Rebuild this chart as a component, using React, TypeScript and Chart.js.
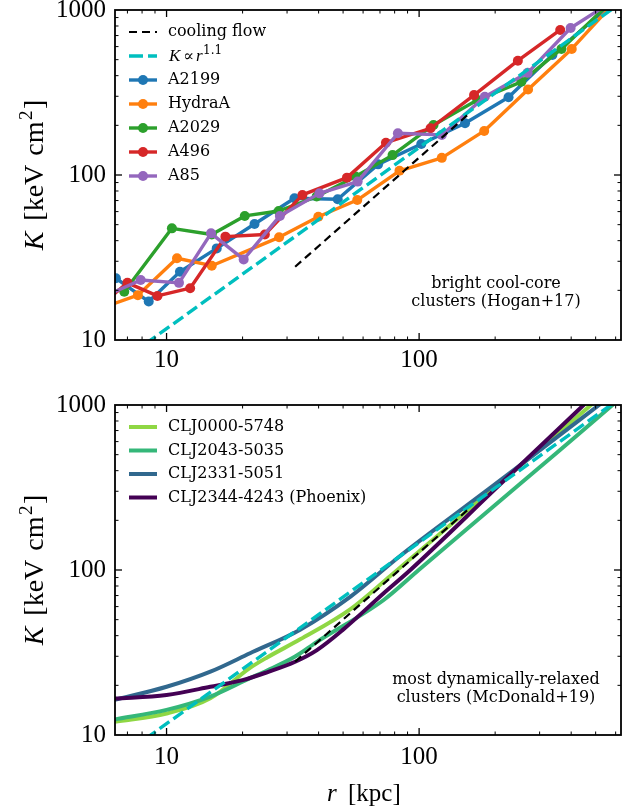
import React, { useEffect, useRef } from 'react';
import { Chart, registerables } from 'chart.js';

Chart.register(...registerables);

// ---------- axes ----------
const R_MIN = 6.25;
const R_MAX = 630;
const K_MIN = 10;
const K_MAX = 1000;
const R_TICKS = [10, 100];
const K_TICKS = [10, 100, 1000];
const DECADES = [1, 10, 100, 1000];
const MULTS = [1, 2, 3, 4, 5, 6, 7, 8, 9];

// ---------- reference lines ----------
const COOLING_R = [32.3, 160];
const COOLING_K = [27.8, 240];
const POWER_R = [5, 700];
const POWER_K = [5.47, 1244];

// ---------- Hogan+17 bright cool-core clusters ----------
const A2199_R = [6.3, 8.5, 11.3, 15.8, 22.3, 32.1, 47.6, 68.8, 102, 152, 226, 337, 624];
const A2199_K = [23.7, 17.1, 25.9, 35.9, 50.5, 72.3, 71.3, 116, 154, 206, 296, 534, 1200];
const HYDRAA_R = [5.5, 7.7, 11.0, 15.1, 27.9, 39.9, 56.9, 83.6, 123, 181, 270, 402, 622];
const HYDRAA_K = [15.6, 18.7, 31.3, 28.2, 41.9, 55.8, 70.5, 106, 127, 185, 330, 581, 1200];
const A2029_R = [6.8, 10.5, 15.1, 20.4, 27.8, 39.3, 56, 78.5, 114, 170, 254, 366, 603];
const A2029_K = [19.6, 47.5, 43.6, 56.5, 60.5, 74.0, 98, 132, 201, 285, 367, 581, 1200];
const A496_R = [5.5, 7.0, 9.2, 12.4, 17.1, 24.5, 34.5, 51.8, 73.9, 111, 165, 246, 362];
const A496_K = [16.3, 22.2, 18.5, 20.6, 42.3, 43.6, 75.7, 96.4, 157, 192, 305, 493, 757];
const A85_R = [5.5, 7.9, 11.2, 15.0, 20.2, 28.1, 40.3, 57.1, 82.4, 123, 182, 269, 398, 620];
const A85_K = [18.0, 23.1, 22.2, 44.3, 30.8, 56.5, 77.4, 91.2, 179, 175, 298, 416, 778, 1200];

// ---------- McDonald+19 most relaxed clusters ----------
const CLJ0000_R = [6.2, 10, 14.9, 21.4, 25, 33.8, 53.5, 76.9, 86.9, 150, 258, 479, 650];
const CLJ0000_K = [12.0, 13.5, 16.7, 25.5, 29.5, 38, 58, 92, 108, 219, 444, 1000, 1487];
const CLJ2043_R = [6.2, 10, 14.9, 21.4, 25, 32.3, 39.4, 72.4, 99.6, 200, 350, 583, 650];
const CLJ2043_K = [12.4, 14.2, 17.1, 22.1, 24.6, 29.9, 36.7, 65.8, 100, 248, 512, 1000, 1152];
const CLJ2331_R = [6.2, 10, 15, 21.4, 33.8, 53.5, 84.3, 150, 272, 516, 650];
const CLJ2331_K = [16.3, 19.6, 24.3, 31.3, 43.5, 69, 122, 238, 473, 1000, 1310];
const CLJ2344_R = [6.2, 10, 14.9, 20, 25, 32.3, 39.4, 50, 72.4, 92.3, 200, 272, 448, 650];
const CLJ2344_K = [16.6, 17.5, 19.6, 21.5, 24.0, 27.8, 32.7, 43.5, 72.3, 100, 309, 484, 1000, 1722];

const TOP_LABELS = ['A2199', 'HydraA', 'A2029', 'A496', 'A85'];
const TOP_COLORS = ['#1f77b4', '#ff7f0e', '#2ca02c', '#d62728', '#9467bd'];
const TOP_R = [A2199_R, HYDRAA_R, A2029_R, A496_R, A85_R];
const TOP_K = [A2199_K, HYDRAA_K, A2029_K, A496_K, A85_K];

const BOT_LABELS = ['CLJ0000-5748', 'CLJ2043-5035', 'CLJ2331-5051', 'CLJ2344-4243 (Phoenix)'];
const BOT_COLORS = ['#8fd744', '#35b779', '#31688e', '#440154'];
const BOT_R = [CLJ0000_R, CLJ2043_R, CLJ2331_R, CLJ2344_R];
const BOT_K = [CLJ0000_K, CLJ2043_K, CLJ2331_K, CLJ2344_K];

const CYAN = '#00bfbf';
const TICK_FONT = 'Liberation Serif';
const TEXT_FONT = 'DejaVu Serif';
const TOP_LW = 3.4;
const BOT_LW = 4;

function pts(r: number[], k: number[]) {
  return r.map((x, i) => ({ x, y: k[i] }));
}

type LegendItem = {
  label: string;
  color: string;
  width: number;
  dash?: number[];
  marker?: boolean;
  math?: boolean;
};

type DecorOpts = {
  legend: LegendItem[];
  legendY0: number;
  legendDy: number;
  note: string[];
  noteY: number[];
  xTitle: boolean;
};

function line(ctx: CanvasRenderingContext2D, x1: number, y1: number, x2: number, y2: number) {
  ctx.beginPath();
  ctx.moveTo(x1, y1);
  ctx.lineTo(x2, y2);
  ctx.stroke();
}

function decorPlugin(o: DecorOpts) {
  return {
    id: 'decor',
    afterDraw(chart: any) {
      const ctx: CanvasRenderingContext2D = chart.ctx;
      const a = chart.chartArea;
      const xs = chart.scales.x;
      const ys = chart.scales.y;
      ctx.save();
      ctx.strokeStyle = '#000';
      // inward ticks on all four sides
      for (const d of DECADES) {
        for (const m of MULTS) {
          const v = d * m;
          const major = m === 1;
          const len = major ? 7 : 3.5;
          ctx.lineWidth = major ? 1.3 : 1;
          if (v > xs.min && v < xs.max) {
            const px = xs.getPixelForValue(v);
            line(ctx, px, a.bottom, px, a.bottom - len);
            line(ctx, px, a.top, px, a.top + len);
          }
          if (v > ys.min && v < ys.max) {
            const py = ys.getPixelForValue(v);
            line(ctx, a.left, py, a.left + len, py);
            line(ctx, a.right, py, a.right - len, py);
          }
        }
      }
      ctx.lineWidth = 1.8;
      ctx.strokeRect(a.left, a.top, a.right - a.left, a.bottom - a.top);

      // legend
      const hx0 = a.left + 14;
      const hx1 = a.left + 42;
      const tx = a.left + 53;
      o.legend.forEach((it, i) => {
        const y = a.top + o.legendY0 + i * o.legendDy;
        ctx.strokeStyle = it.color;
        ctx.lineWidth = it.width;
        ctx.lineCap = 'butt';
        ctx.setLineDash(it.dash || []);
        line(ctx, hx0, y, hx1, y);
        ctx.setLineDash([]);
        if (it.marker) {
          ctx.fillStyle = it.color;
          ctx.beginPath();
          ctx.arc((hx0 + hx1) / 2, y, 5, 0, Math.PI * 2);
          ctx.fill();
        }
        ctx.fillStyle = '#000';
        if (it.math) {
          const b = y + 5;
          ctx.textBaseline = 'alphabetic';
          ctx.textAlign = 'left';
          ctx.font = `italic 17px ${TICK_FONT}`;
          ctx.fillText('K', tx + 1, b);
          ctx.font = `16px ${TEXT_FONT}`;
          ctx.fillText('\u221d', tx + 15, b);
          ctx.font = `italic 17px ${TICK_FONT}`;
          ctx.fillText('r', tx + 28, b);
          ctx.font = `12px ${TEXT_FONT}`;
          ctx.fillText('1.1', tx + 35, b - 7);
        } else {
          ctx.font = `16px ${TEXT_FONT}`;
          ctx.textBaseline = 'middle';
          ctx.textAlign = 'left';
          ctx.fillText(it.label, tx, y);
        }
      });

      // annotation
      ctx.fillStyle = '#000';
      ctx.font = `16px ${TEXT_FONT}`;
      ctx.textAlign = 'center';
      ctx.textBaseline = 'middle';
      o.note.forEach((t, i) => ctx.fillText(t, a.left + 381, a.top + o.noteY[i]));

      // y title: K [keV cm^2], rotated, laid out piece by piece
      const cy = (a.top + a.bottom) / 2;
      const mainF = `28px ${TICK_FONT}`;
      const italF = `italic 28px ${TICK_FONT}`;
      const supF = `19px ${TICK_FONT}`;
      const pieces = [
        { t: 'K', f: italF, gap: 0, dy: 0 },
        { t: '[keV', f: mainF, gap: 11, dy: 0 },
        { t: 'cm', f: mainF, gap: 9, dy: 0 },
        { t: '2', f: supF, gap: 1.5, dy: -11 },
        { t: ']', f: mainF, gap: 1.5, dy: 0 },
      ];
      let total = 0;
      const widths = pieces.map((p) => {
        ctx.font = p.f;
        const w = ctx.measureText(p.t).width;
        total += p.gap + w;
        return w;
      });
      ctx.save();
      ctx.translate(43, cy + total / 2);
      ctx.rotate(-Math.PI / 2);
      ctx.textAlign = 'left';
      ctx.textBaseline = 'alphabetic';
      let pos = 0;
      pieces.forEach((p, i) => {
        pos += p.gap;
        ctx.font = p.f;
        ctx.fillText(p.t, pos, p.dy);
        pos += widths[i];
      });
      ctx.restore();

      // x title: r [kpc]
      if (o.xTitle) {
        const cx = (a.left + a.right) / 2 - 4;
        const by = a.bottom + 66;
        ctx.textAlign = 'left';
        ctx.textBaseline = 'alphabetic';
        ctx.font = `italic 25px ${TICK_FONT}`;
        ctx.fillText('r', cx - 37, by);
        ctx.font = `25px ${TICK_FONT}`;
        ctx.fillText('[kpc]', cx - 16, by);
      }
      ctx.restore();
    },
  };
}

function makeChart(canvas: HTMLCanvasElement, datasets: any[], decor: DecorOpts, xPad: number, xHeight: number) {
  return new Chart(canvas as any, {
    type: 'line',
    data: { datasets },
    options: {
      responsive: false,
      animation: false,
      devicePixelRatio: 1,
      events: [],
      layout: { padding: { left: 0, right: 15, top: 10, bottom: 0 } },
      plugins: { legend: { display: false }, tooltip: { enabled: false } },
      elements: { line: { borderJoinStyle: 'round', borderCapStyle: 'butt', fill: false } },
      scales: {
        x: {
          type: 'logarithmic',
          min: R_MIN,
          max: R_MAX,
          grid: { display: false, drawTicks: false },
          border: { display: false },
          afterBuildTicks: (s: any) => {
            s.ticks = R_TICKS.map((v) => ({ value: v }));
          },
          afterFit: (s: any) => {
            s.height = xHeight;
            s.paddingLeft = 0;
            s.paddingRight = 0;
          },
          ticks: {
            autoSkip: false,
            maxRotation: 0,
            minRotation: 0,
            padding: xPad,
            color: '#000',
            font: { family: TICK_FONT, size: 25 },
            callback: (v: any) => String(v),
          },
        },
        y: {
          type: 'logarithmic',
          min: K_MIN,
          max: K_MAX,
          grid: { display: false, drawTicks: false },
          border: { display: false },
          afterBuildTicks: (s: any) => {
            s.ticks = K_TICKS.map((v) => ({ value: v }));
          },
          afterFit: (s: any) => {
            s.width = 115;
            s.paddingTop = 0;
            s.paddingBottom = 0;
          },
          ticks: {
            autoSkip: false,
            padding: 9,
            color: '#000',
            font: { family: TICK_FONT, size: 25 },
            callback: (v: any) => String(v),
          },
        },
      },
    } as any,
    plugins: [decorPlugin(decor)],
  });
}

function refLines() {
  return [
    {
      label: 'cooling flow',
      data: pts(COOLING_R, COOLING_K),
      borderColor: '#000',
      borderWidth: 2.2,
      borderDash: [8, 5],
      pointRadius: 0,
      order: 0,
    },
    {
      label: 'K \u221d r^1.1',
      data: pts(POWER_R, POWER_K),
      borderColor: CYAN,
      borderWidth: 3.4,
      borderDash: [12, 5],
      pointRadius: 0,
      order: 1,
    },
  ];
}

export default function App() {
  const topRef = useRef<HTMLCanvasElement>(null);
  const botRef = useRef<HTMLCanvasElement>(null);

  useEffect(() => {
    const topSets = [
      ...refLines(),
      ...TOP_LABELS.map((label, i) => ({
        label,
        data: pts(TOP_R[i], TOP_K[i]),
        borderColor: TOP_COLORS[i],
        backgroundColor: TOP_COLORS[i],
        pointBackgroundColor: TOP_COLORS[i],
        pointBorderWidth: 0,
        pointRadius: 5,
        borderWidth: TOP_LW,
        tension: 0,
        order: 10 - i,
      })),
    ];
    const botSets = [
      ...refLines(),
      ...BOT_LABELS.map((label, i) => ({
        label,
        data: pts(BOT_R[i], BOT_K[i]),
        borderColor: BOT_COLORS[i],
        borderWidth: BOT_LW,
        pointRadius: 0,
        cubicInterpolationMode: 'monotone',
        order: 10 - i,
      })),
    ];
    const topLegend: LegendItem[] = [
      { label: 'cooling flow', color: '#000', width: 2.2, dash: [8, 5] },
      { label: 'K \u221d r^1.1', color: CYAN, width: 3.4, dash: [14, 5], math: true },
      ...TOP_LABELS.map((label, i) => ({ label, color: TOP_COLORS[i], width: TOP_LW, marker: true })),
    ];
    const botLegend: LegendItem[] = BOT_LABELS.map((label, i) => ({ label, color: BOT_COLORS[i], width: BOT_LW }));

    const c1 = makeChart(
      topRef.current!,
      topSets,
      {
        legend: topLegend,
        legendY0: 22,
        legendDy: 24,
        note: ['bright cool-core', 'clusters (Hogan+17)'],
        noteY: [273.5, 291.5],
        xTitle: false,
      },
      5,
      55
    );
    const c2 = makeChart(
      botRef.current!,
      botSets,
      {
        legend: botLegend,
        legendY0: 22,
        legendDy: 23.5,
        note: ['most dynamically-relaxed', 'clusters (McDonald+19)'],
        noteY: [274.5, 292.5],
        xTitle: true,
      },
      7,
      77
    );
    return () => {
      c1.destroy();
      c2.destroy();
    };
  }, []);

  return (
    <div style={{ position: 'absolute', left: 0, top: 0, width: 636, height: 812, background: '#fff' }}>
      <canvas
        ref={topRef}
        width={636}
        height={395}
        style={{ position: 'absolute', left: 0, top: 0, width: 636, height: 395 }}
      />
      <canvas
        ref={botRef}
        width={636}
        height={417}
        style={{ position: 'absolute', left: 0, top: 395, width: 636, height: 417 }}
      />
    </div>
  );
}
